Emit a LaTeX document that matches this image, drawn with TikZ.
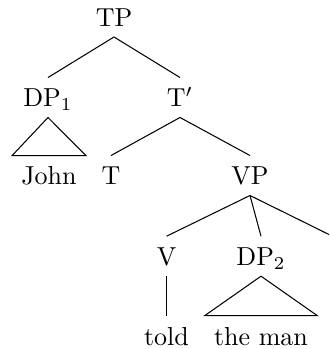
\documentclass[tikz,border=0pt]{standalone}

\begin{document}
\begin{tikzpicture}[x=0.3846pt, y=-0.3846pt,
      every node/.style={anchor=base, text height=7.8pt, text depth=0.5pt},
      branch/.style={line width=0.4pt}]
    \clip (0,0) rectangle (329,349);
    % phrase labels
    \node (TP) at (114,26.5) {TP};
    \node (DP1) at (48,107) {DP$_1$};
    \node (Tbar) at (180,107) {T$'$};
    \node (John) at (49,185) {John};
    \node (T) at (111,185) {T};
    \node (VP) at (250,185) {VP};
    \node (V) at (166.5,265.7) {V};
    \node (DP2) at (261,265.7) {DP$_2$};
    \node (told) at (166.5,345) {told};
    \node (theman) at (261,345) {the man};
    \coordinate (VPthird) at (334,237);
    % branches
    \draw[branch] (TP.south) -- (DP1.north);
    \draw[branch] (TP.south) -- (Tbar.north);
    \draw[branch] (Tbar.south) -- (T.north);
    \draw[branch] (Tbar.south) -- (VP.north);
    \draw[branch] (VP.south) -- (V.north);
    \draw[branch] (VP.south) -- (DP2.north);
    \draw[branch] (VP.south) -- (VPthird);
    \draw[branch] (V.south) -- (told.north);
    % roofs
    \draw[branch] (DP1.south) -- (John.north west) -- (John.north east) -- cycle;
    \draw[branch] (DP2.south) -- (theman.north west) -- (theman.north east) -- cycle;
  \end{tikzpicture}
\end{document}
